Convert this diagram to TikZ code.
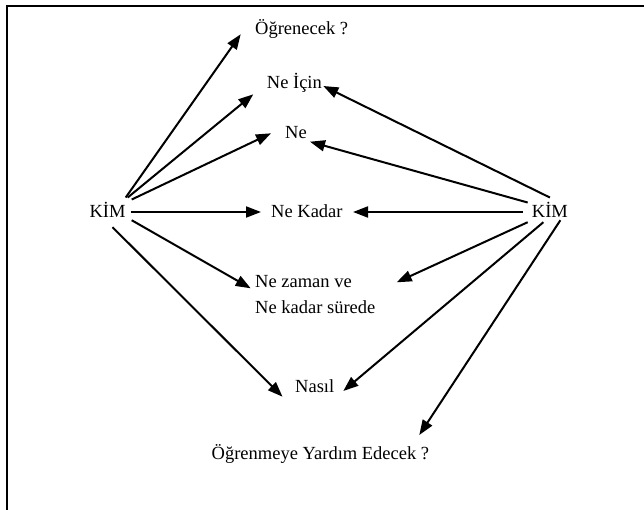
\documentclass[tikz,border=0pt]{standalone}
\usepackage{fontspec}
\setmainfont{Liberation Serif}
\usetikzlibrary{arrows.meta}
\begin{document}
\begin{tikzpicture}[x=1pt,y=-1pt,
  lbl/.style={anchor=base west,inner sep=0pt,font=\fontsize{18.5}{26}\selectfont},
  kim/.style={anchor=base west,inner xsep=5pt,inner ysep=5pt,font=\fontsize{18.5}{26}\selectfont},
  arr/.style={line width=2pt,-{Triangle[length=15pt,width=11pt]}},
  frame/.style={line width=2pt}]
\useasboundingbox (0,0) rectangle (644,510);
% frame
\coordinate (fa) at (7,510);
\coordinate (fb) at (7,6);
\coordinate (fc) at (644,6);
\draw[frame] (fa) -- (fb) -- (fc);
% nodes
\node[lbl] (og) at (255,35) {Öğrenecek ?};
\node[lbl] (ic) at (266.7,89) {Ne İçin};
\node[lbl] (ne) at (285,139) {Ne};
\node[lbl] (nk) at (271,218) {Ne Kadar};
\node[lbl,align=left] (nz) at (255,313) {Ne zaman ve\\[0pt]Ne kadar sürede};
\node[lbl] (na) at (295,392) {Nasıl};
\node[lbl] (oy) at (211.5,459) {Öğrenmeye Yardım Edecek ?};
\node[kim] (kl) at (84.3,218) {KİM};
\node[kim] (kr) at (526.7,218) {KİM};
% arrow tips
\coordinate (t1) at (240.7,34.3);
\coordinate (t2) at (253.3,94.3);
\coordinate (t3) at (271,133.3);
\coordinate (t4) at (261,212);
\coordinate (t5) at (250.7,288.3);
\coordinate (t6) at (282.5,396.7);
\coordinate (u1) at (323.3,86);
\coordinate (u2) at (310,141.7);
\coordinate (u3) at (353,212);
\coordinate (u4) at (396.7,282.3);
\coordinate (u5) at (343.3,391);
\coordinate (u6) at (419.3,435);
% left arrows
\draw[arr] ([xshift=-5pt]kl.north east) -- (t1);
\draw[arr] ([xshift=-3pt]kl.north east) -- (t2);
\draw[arr] ([xshift=1pt,yshift=-2pt]kl.north east) -- (t3);
\draw[arr] (kl.east |- t4) -- (t4);
\draw[arr] ([xshift=1pt,yshift=3pt]kl.south east) -- (t5);
\draw[arr] ([xshift=5pt,yshift=-4pt]kl.south) -- (t6);
% right arrows
\draw[arr] (kr.north) -- (u1);
\draw[arr] ([xshift=1pt,yshift=-5pt]kr.north west) -- (u2);
\draw[arr] ([xshift=-4pt]kr.west |- u3) -- (u3);
\draw[arr] ([xshift=1pt,yshift=1pt]kr.south west) -- (u4);
\draw[arr] ([xshift=-6.5pt,yshift=1pt]kr.south) -- (u5);
\draw[arr] ([xshift=10.5pt,yshift=3pt]kr.south) -- (u6);
\end{tikzpicture}
\end{document}
